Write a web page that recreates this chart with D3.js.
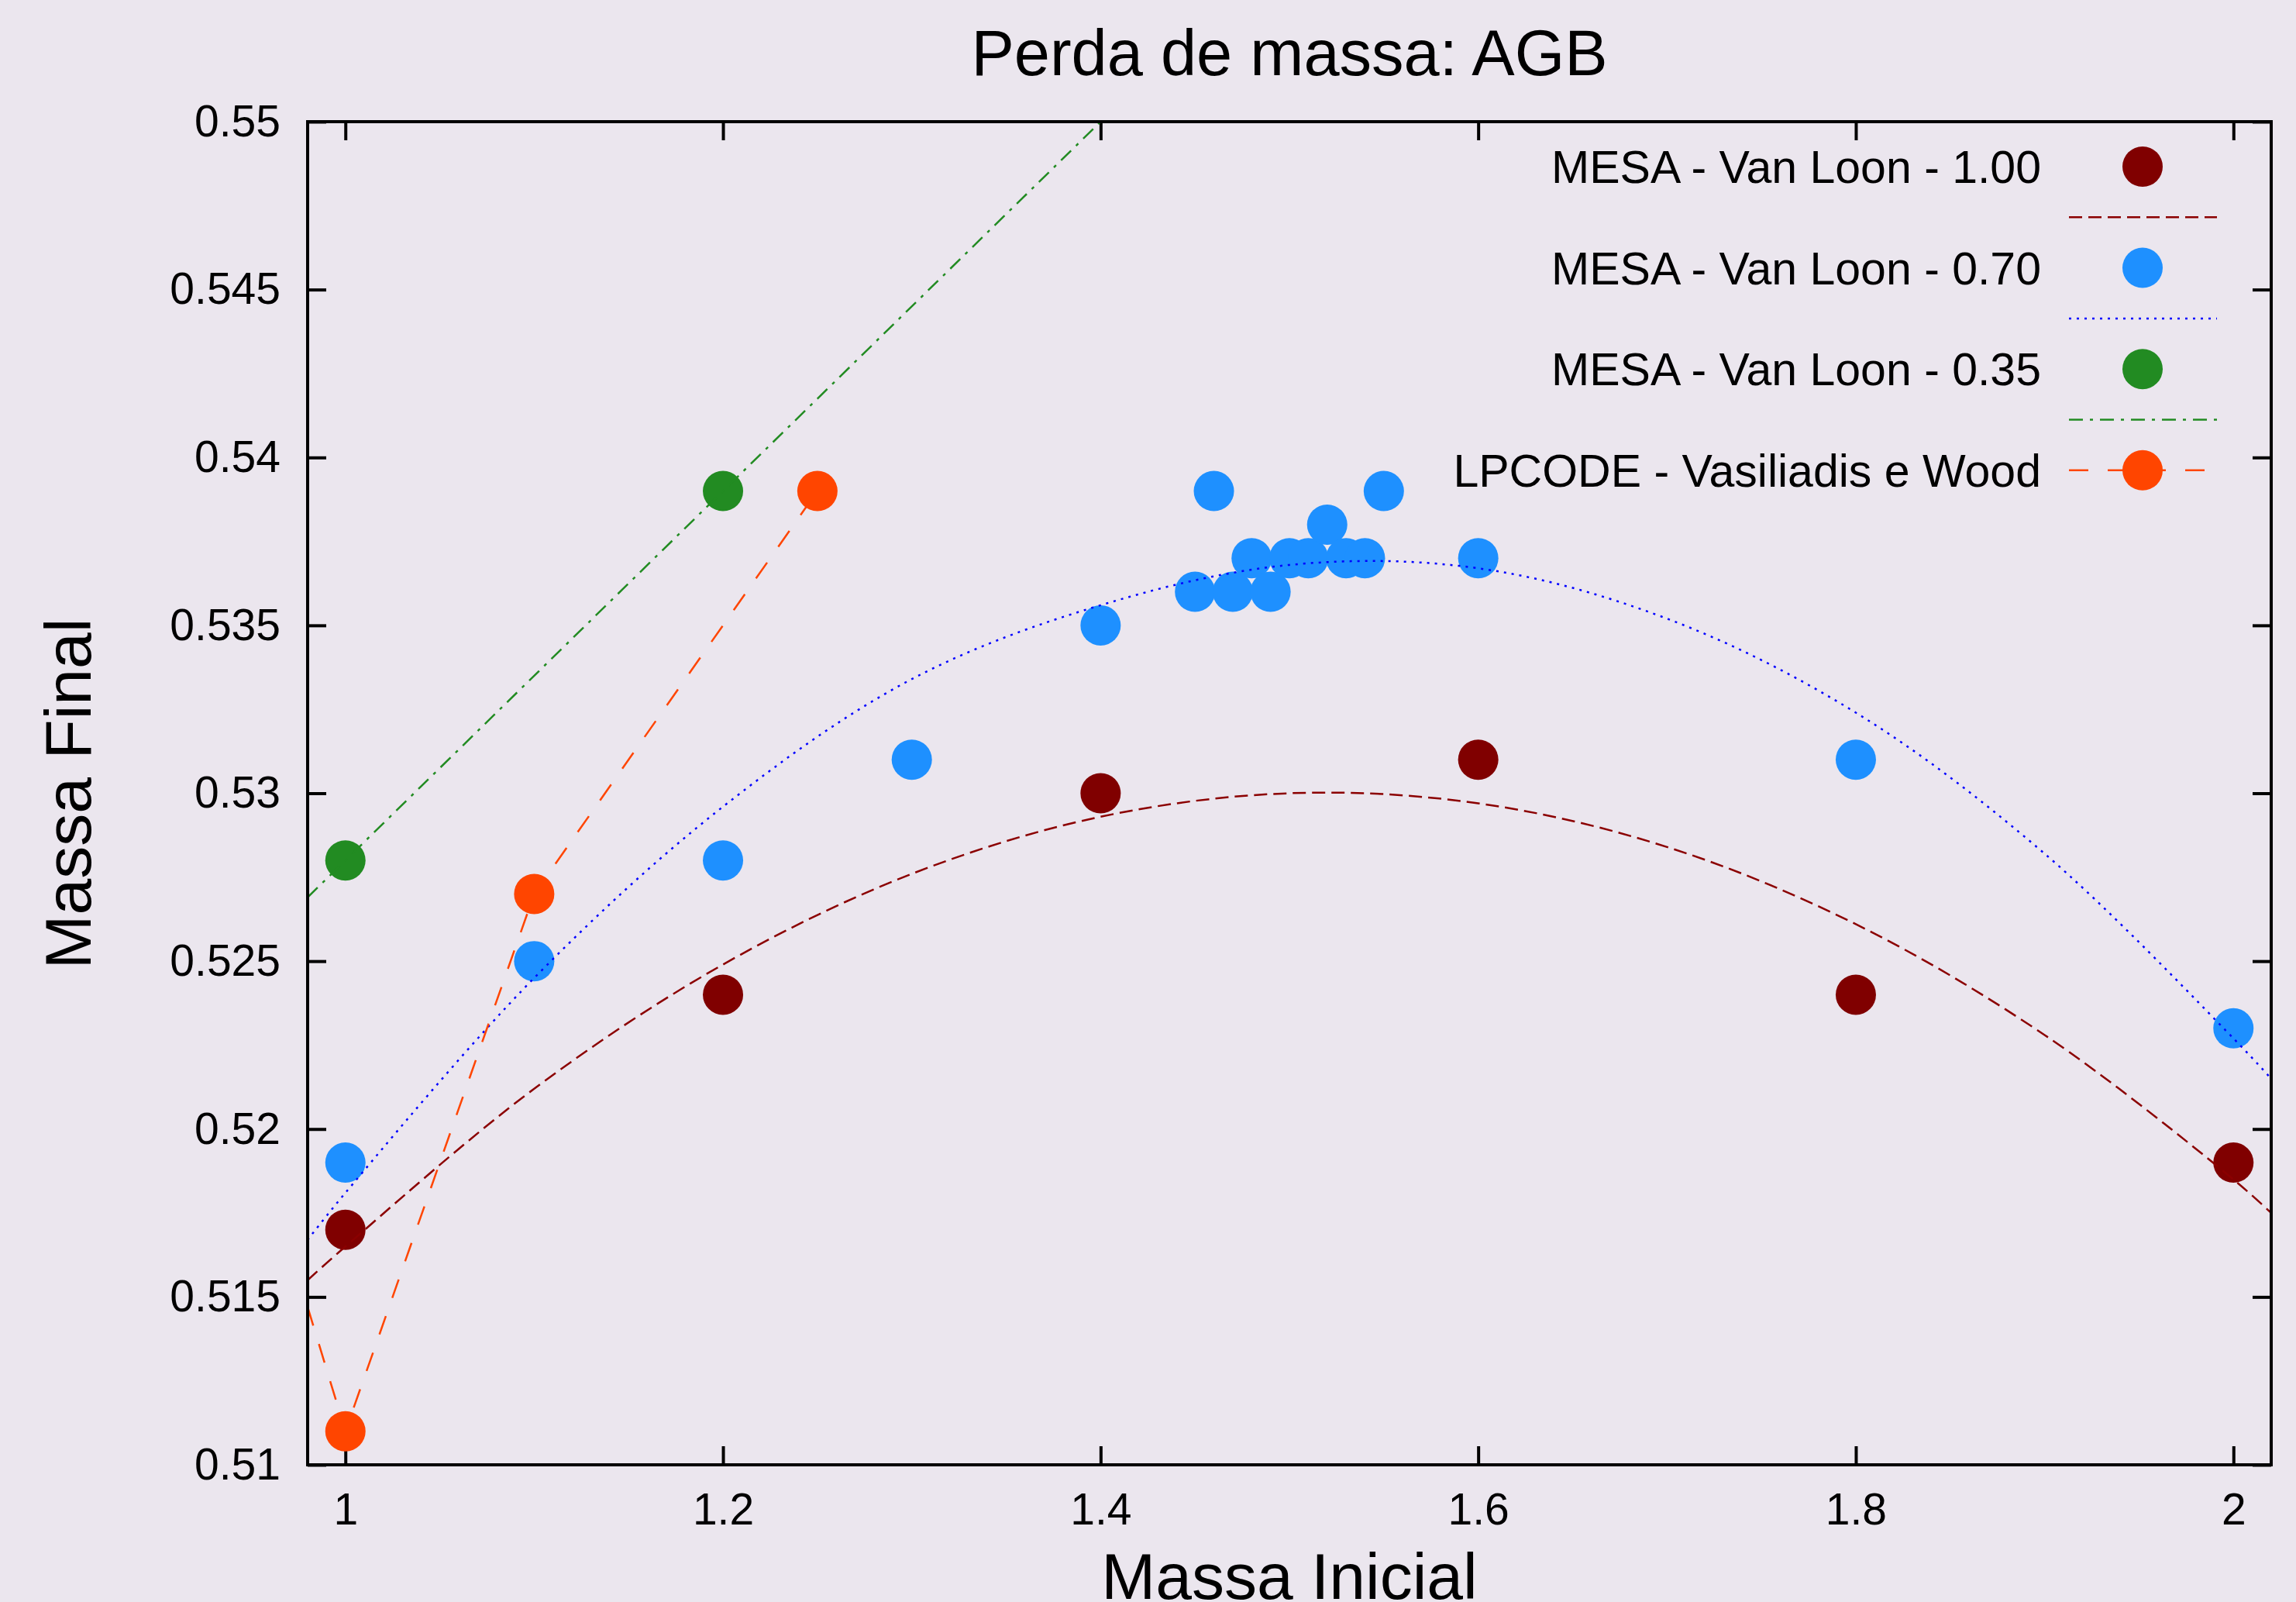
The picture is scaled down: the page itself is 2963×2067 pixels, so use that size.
<!DOCTYPE html>
<html>
<head>
<meta charset="utf-8">
<script src="https://cdn.jsdelivr.net/npm/d3@7"></script>
<style>
  body { margin: 0; background: #ebe6ee; }
  text { font-family: "Liberation Sans", Arial, sans-serif; fill: #000; }
</style>
</head>
<body>
<script>
// --- data ---
const xTicks = [1, 1.2, 1.4, 1.6, 1.8, 2];
const xTickLabels = ["1", "1.2", "1.4", "1.6", "1.8", "2"];
const yTicks = [0.51, 0.515, 0.52, 0.525, 0.53, 0.535, 0.54, 0.545, 0.55];
const yTickLabels = ["0.51", "0.515", "0.52", "0.525", "0.53", "0.535", "0.54", "0.545", "0.55"];

// MESA - Van Loon - 1.00
const x100 = [1.0, 1.2, 1.4, 1.6, 1.8, 2.0];
const y100 = [0.517, 0.524, 0.530, 0.531, 0.524, 0.519];
// MESA - Van Loon - 0.70
const x070 = [1.0, 1.1, 1.2, 1.3, 1.4, 1.45, 1.46, 1.47, 1.48, 1.49, 1.50, 1.51, 1.52, 1.53, 1.54, 1.55, 1.6, 1.8, 2.0];
const y070 = [0.519, 0.525, 0.528, 0.531, 0.535, 0.536, 0.539, 0.536, 0.537, 0.536, 0.537, 0.537, 0.538, 0.537, 0.537, 0.539, 0.537, 0.531, 0.523];
// MESA - Van Loon - 0.35
const x035 = [1.0, 1.2];
const y035 = [0.528, 0.539];
// LPCODE - Vasiliadis e Wood
const xLp = [1.0, 1.1, 1.25];
const yLp = [0.511, 0.527, 0.539];
const xLpLine = [0.98, 1.0, 1.1, 1.25];
const yLpLine = [0.5147, 0.511, 0.527, 0.539];

// fitted curves
const fitX = [0.98, 1.0, 1.1, 1.2, 1.3, 1.4, 1.5, 1.6, 1.7, 1.8, 1.9, 2.0, 2.02];
const fit100 = [0.5155, 0.5165, 0.5212, 0.5249, 0.5276, 0.5293, 0.5300, 0.5297, 0.5284, 0.5261, 0.5228, 0.5185, 0.5175];
const fit070 = [0.5167, 0.5181, 0.5245, 0.5296, 0.5334, 0.5356, 0.5368, 0.5367, 0.5352, 0.5324, 0.5282, 0.5227, 0.5215];
const fit035X = [0.98, 1.4];
const fit035 = [0.5269, 0.55];

const labels = ["MESA - Van Loon - 1.00", "MESA - Van Loon - 0.70", "MESA - Van Loon - 0.35", "LPCODE - Vasiliadis e Wood"];

// --- layout ---
const W = 2963, H = 2067;
const pLeft = 397, pRight = 2931, pTop = 157, pBottom = 1890;

const svg = d3.select("body")
  .append("svg")
  .attr("width", W)
  .attr("height", H);

svg.append("rect").attr("width", W).attr("height", H).attr("fill", "#ebe6ee");

const x = d3.scaleLinear().domain([0.98, 2.02]).range([pLeft, pRight]);
const y = d3.scaleLinear().domain([0.51, 0.55]).range([pBottom, pTop]);

svg.append("defs").append("clipPath").attr("id", "plot")
  .append("rect")
  .attr("x", pLeft).attr("y", pTop)
  .attr("width", pRight - pLeft).attr("height", pBottom - pTop);

// axes (ticks point inward, mirrored on top/right)
function styleAxis(g, fontSize) {
  g.select(".domain").remove();
  g.selectAll(".tick line").attr("stroke", "#000").attr("stroke-width", 4);
  g.selectAll(".tick text").attr("font-size", fontSize).attr("font-family", "Liberation Sans, Arial, sans-serif");
}

svg.append("g")
  .attr("transform", "translate(0," + pBottom + ")")
  .call(d3.axisBottom(x).tickValues(xTicks).tickSize(-24).tickPadding(37)
    .tickFormat(function (d, i) { return xTickLabels[i]; }))
  .call(styleAxis, 57);

svg.append("g")
  .attr("transform", "translate(0," + pTop + ")")
  .call(d3.axisTop(x).tickValues(xTicks).tickSize(-24).tickFormat(""))
  .call(styleAxis, 57);

svg.append("g")
  .attr("transform", "translate(" + pLeft + ",0)")
  .call(d3.axisLeft(y).tickValues(yTicks).tickSize(-24).tickPadding(35)
    .tickFormat(function (d, i) { return yTickLabels[i]; }))
  .call(styleAxis, 57);

svg.append("g")
  .attr("transform", "translate(" + pRight + ",0)")
  .call(d3.axisRight(y).tickValues(yTicks).tickSize(-24).tickFormat(""))
  .call(styleAxis, 57);

// series
const series = [
  { xs: x100, ys: y100, color: "#800000", lx: fitX, ly: fit100, lcolor: "#8b0000", dash: "17,8", curve: d3.curveCatmullRom },
  { xs: x070, ys: y070, color: "#1e90ff", lx: fitX, ly: fit070, lcolor: "#0000ff", dash: "3,7", curve: d3.curveCatmullRom },
  { xs: x035, ys: y035, color: "#228b22", lx: fit035X, ly: fit035, lcolor: "#228b22", dash: "18,9,4,9", curve: d3.curveLinear },
];

const plot = svg.append("g");
const line = d3.line()
  .x(function (d) { return x(d[0]); })
  .y(function (d) { return y(d[1]); });

series.forEach(function (s) {
  plot.append("g").selectAll("circle")
    .data(d3.zip(s.xs, s.ys))
    .enter().append("circle")
    .attr("cx", function (d) { return x(d[0]); })
    .attr("cy", function (d) { return y(d[1]); })
    .attr("r", 26)
    .attr("fill", s.color);

  plot.append("path")
    .datum(d3.zip(s.lx, s.ly))
    .attr("clip-path", "url(#plot)")
    .attr("fill", "none")
    .attr("stroke", s.lcolor)
    .attr("stroke-width", 2.5)
    .attr("stroke-dasharray", s.dash)
    .attr("d", line.curve(s.curve));
});

// LPCODE: lines + points
plot.append("path")
  .datum(d3.zip(xLpLine, yLpLine))
  .attr("clip-path", "url(#plot)")
  .attr("fill", "none")
  .attr("stroke", "#ff4500")
  .attr("stroke-width", 2.5)
  .attr("stroke-dasharray", "25,25")
  .attr("d", line.curve(d3.curveLinear));

plot.append("g").selectAll("circle")
  .data(d3.zip(xLp, yLp))
  .enter().append("circle")
  .attr("cx", function (d) { return x(d[0]); })
  .attr("cy", function (d) { return y(d[1]); })
  .attr("r", 26)
  .attr("fill", "#ff4500");

// border
svg.append("rect")
  .attr("x", pLeft).attr("y", pTop)
  .attr("width", pRight - pLeft).attr("height", pBottom - pTop)
  .attr("fill", "none")
  .attr("stroke", "#000")
  .attr("stroke-width", 4);

// legend
const legY0 = 215, legStep = 65.3;
const legend = svg.append("g");
const legItems = [
  { kind: "pt", color: "#800000", label: labels[0] },
  { kind: "ln", color: "#8b0000", dash: "17,8" },
  { kind: "pt", color: "#1e90ff", label: labels[1] },
  { kind: "ln", color: "#0000ff", dash: "3,7" },
  { kind: "pt", color: "#228b22", label: labels[2] },
  { kind: "ln", color: "#228b22", dash: "18,9,4,9" },
  { kind: "lp", color: "#ff4500", dash: "25,25", label: labels[3] },
];

legItems.forEach(function (d, i) {
  const cy = legY0 + i * legStep;
  if (d.label) {
    legend.append("text")
      .attr("x", 2634)
      .attr("y", cy + 21)
      .attr("text-anchor", "end")
      .attr("font-size", 59)
      .text(d.label);
  }
  if (d.kind === "ln" || d.kind === "lp") {
    legend.append("line")
      .attr("x1", 2670).attr("x2", 2861)
      .attr("y1", cy).attr("y2", cy)
      .attr("stroke", d.color)
      .attr("stroke-width", 2.5)
      .attr("stroke-dasharray", d.dash);
  }
  if (d.kind === "pt" || d.kind === "lp") {
    legend.append("circle")
      .attr("cx", 2765).attr("cy", cy)
      .attr("r", 26)
      .attr("fill", d.color);
  }
});

// titles
svg.append("text")
  .attr("x", 1664)
  .attr("y", 97)
  .attr("text-anchor", "middle")
  .attr("font-size", 83)
  .text("Perda de massa: AGB");

svg.append("text")
  .attr("x", 1664)
  .attr("y", 2063)
  .attr("text-anchor", "middle")
  .attr("font-size", 84)
  .text("Massa Inicial");

svg.append("text")
  .attr("transform", "translate(117,1024) rotate(-90)")
  .attr("text-anchor", "middle")
  .attr("font-size", 84)
  .text("Massa Final");
</script>
</body>
</html>
